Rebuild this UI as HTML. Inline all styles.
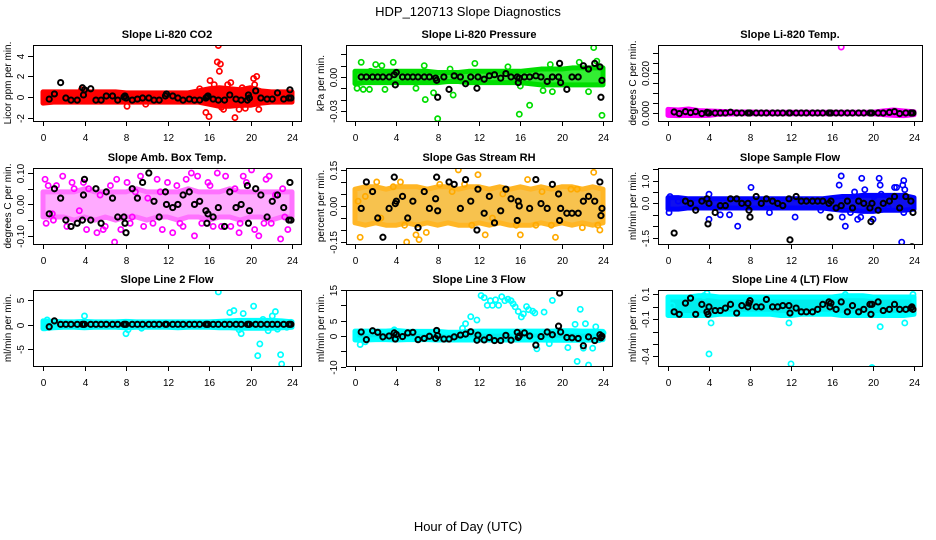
<!DOCTYPE html>
<html><head><meta charset="utf-8"><style>
body{margin:0;background:#fff;}
svg{display:block;font-family:"Liberation Sans",sans-serif;}
</style></head><body>
<svg id="chart" width="936" height="540" viewBox="0 0 936 540">
<text x="468" y="16" text-anchor="middle" font-size="13">HDP_120713  Slope Diagnostics</text>
<text x="468" y="531" text-anchor="middle" font-size="13">Hour of Day (UTC)</text>
</svg>
<script>
// shared x data
const xTicks = [0,4,8,12,16,20,24];
const bandHours = [0,1,2,3,4,5,6,7,8,9,10,11,12,13,14,15,16,17,18,19,20,21,22,23,24];
const blkH = [0.6,1.1,1.7,2.2,2.7,3.3,3.8,3.9,4.0,4.6,5.1,5.6,6.1,6.7,7.2,7.8,7.9,8.0,8.6,9.1,9.6,10.2,10.7,11.2,11.8,11.9,12.5,13.0,13.5,14.1,14.6,15.1,15.7,15.8,15.9,16.4,16.9,17.5,18.0,18.6,19.1,19.7,19.8,19.9,20.5,21.0,21.6,22.1,22.6,23.2,23.7,23.8,23.9];

// Panel 1: CO2
const p1Lo = [-0.6,-0.5,-0.5,-0.5,-0.5,-0.5,-0.5,-0.5,-0.5,-0.5,-0.5,-0.5,-0.5,-0.5,-0.5,-0.5,-0.7,-0.9,-0.9,-0.8,-0.8,-0.6,-0.5,-0.5,-0.5];
const p1Hi = [0.5,0.5,0.5,0.5,0.5,0.5,0.5,0.5,0.4,0.4,0.4,0.4,0.4,0.4,0.4,0.6,0.8,0.9,0.8,0.7,0.9,0.6,0.5,0.5,0.5];
const p1OutH = [16.9,16.8,17.1,17.0,16.1,16.5,15.7,16.0,18.5,17.4,17.8,18.1,20.3,20.6,20.4,19.2,18.9,19.5,20.8,15.1,17.2,18.3,3.7,8.1,9.9];
const p1OutV = [5.0,3.4,3.2,2.5,1.6,1.2,-1.5,-1.9,-2.0,-1.2,1.2,1.4,1.8,2.0,1.2,0.9,-1.2,-1.1,-1.2,0.8,-1.0,-0.7,0.7,-0.9,-0.7];
const p1Blk = [-0.2,0.3,1.4,-0.1,-0.3,-0.3,0.9,0.2,0.7,0.8,-0.3,-0.3,0.1,0.1,-0.3,0.0,0.1,-0.1,-0.3,-0.2,-0.1,-0.1,-0.3,-0.3,0.1,0.3,0.1,-0.1,-0.3,-0.2,-0.3,-0.3,-0.1,0.0,0.1,-0.2,-0.3,-0.3,0.2,-0.2,-0.3,-0.3,0.2,-0.1,0.6,-0.1,-0.2,-0.2,0.4,-0.2,-0.1,0.7,-0.1];

// Panel 2: Pressure
const p2Lo = [-0.006,-0.005,-0.005,-0.005,-0.005,-0.005,-0.005,-0.005,-0.005,-0.004,-0.004,-0.005,-0.005,-0.005,-0.005,-0.005,-0.005,-0.006,-0.007,-0.007,-0.007,-0.007,-0.007,-0.007,-0.007];
const p2Hi = [0.005,0.005,0.005,0.005,0.005,0.005,0.005,0.005,0.004,0.004,0.004,0.005,0.005,0.005,0.005,0.005,0.005,0.006,0.007,0.007,0.007,0.008,0.008,0.008,0.008];
const p2OutH = [0.6,1.5,2.0,2.6,3.7,2.9,0.2,0.8,1.4,6.7,6.8,8.0,7.6,9.5,11.6,14.8,15.9,16.9,16.0,18.9,19.1,21.7,22.6,23.1,23.4,23.9,18.2,5.9,9.2];
const p2OutV = [0.013,0.005,0.011,0.010,0.013,-0.011,-0.010,-0.011,-0.011,0.010,-0.020,-0.037,-0.014,-0.016,0.012,0.009,-0.033,-0.025,-0.008,0.011,-0.013,0.013,-0.013,0.026,0.014,-0.034,-0.012,-0.010,0.007];
const p2Blk = [0,0,0,0,0,0,0.002,-0.007,0.004,0,0,0,0,0,0,-0.001,-0.003,-0.018,0,-0.011,0.001,0,-0.006,0,-0.01,0,-0.002,0.001,0.002,-0.001,0.003,0,0,-0.005,-0.001,0,0,0.001,0,-0.004,0,0,0.012,-0.005,-0.011,0,0,0.010,0.007,0.012,0.009,-0.018,-0.003];

// Panel 3: Temp
const p3Lo = [-0.0012,-0.0013,-0.0012,-0.0013,-0.0012,-0.0006,-0.0005,-0.0004,-0.0004,-0.0004,-0.0004,-0.0004,-0.0004,-0.0004,-0.0004,-0.0004,-0.0004,-0.0004,-0.0004,-0.0004,-0.0004,-0.0008,-0.0012,-0.0013,-0.0008];
const p3Hi = [0.0018,0.0015,0.0020,0.0012,0.0010,0.0008,0.0006,0.0005,0.0005,0.0004,0.0004,0.0004,0.0004,0.0004,0.0004,0.0004,0.0004,0.0004,0.0004,0.0004,0.0004,0.0010,0.0015,0.0010,0.0006];
const p3OutH = [16.9];
const p3OutV = [0.033];
const p3Blk = [0.0005,-0.0003,0.0007,0.0002,0.0007,-0.0003,0.0003,0,0,0,0,0,0.0004,0,0,0,0,0,0,0,0,0,0,0,0,0,0,0,0,0,0,0,0,0,0,0,0,0,0,0,0,0,0,0,0,0,0.0003,0.0007,-0.0003,0,0,0,0];

// Panel 4: Amb box temp
const p4Lo = [-0.04,-0.04,-0.04,-0.05,-0.04,-0.05,-0.04,-0.05,-0.04,-0.04,-0.05,-0.04,-0.04,-0.05,-0.04,-0.04,-0.05,-0.04,-0.04,-0.05,-0.04,-0.04,-0.05,-0.04,-0.04];
const p4Hi = [0.04,0.04,0.04,0.04,0.05,0.04,0.04,0.04,0.04,0.05,0.04,0.04,0.04,0.04,0.05,0.04,0.04,0.04,0.05,0.04,0.04,0.04,0.04,0.04,0.04];
const p4OutH = [0.2,0.3,0.5,0.9,1.3,1.9,2.3,2.8,3.5,3.9,4.2,4.4,5.2,5.5,6.0,6.5,6.9,7.1,7.5,8.1,8.4,8.9,9.4,9.7,10.1,10.6,11.0,11.5,12.0,12.5,12.9,13.2,13.8,14.3,14.6,14.9,15.3,15.9,16.4,16.8,17.2,17.6,18.1,18.5,18.9,19.3,19.6,20.1,20.4,20.8,21.3,21.8,22.0,22.4,22.9,23.1,23.6,23.9,1.0,3.0,5.8,8.6,11.3,13.5,16.1,19.0,21.5,23.3];
const p4OutV = [0.08,-0.06,0.06,-0.03,0.06,0.09,-0.07,0.07,-0.02,0.07,-0.08,0.05,-0.09,0.03,-0.07,0.06,-0.12,0.08,-0.08,0.07,-0.06,0.04,0.09,-0.07,0.02,-0.06,0.08,-0.08,0.07,-0.09,0.06,-0.06,0.08,0.10,-0.10,0.09,-0.06,0.07,-0.07,0.10,-0.07,0.09,-0.07,0.05,-0.09,0.09,0.07,0.11,-0.08,-0.10,-0.06,0.09,-0.06,0.03,-0.11,0.05,-0.08,-0.05,-0.05,0.05,-0.08,-0.04,0.04,-0.07,0.06,-0.06,0.08,-0.04];
const p4Blk = [-0.03,0.05,0.02,-0.05,-0.07,-0.06,-0.05,0.03,0.08,-0.05,0.05,-0.06,0.04,0.02,-0.04,-0.04,-0.06,-0.09,0.05,0.02,0.07,0.10,0.01,-0.04,0.04,0.00,-0.01,0.00,0.03,0.04,0.00,0.01,-0.02,-0.06,-0.03,-0.04,-0.01,-0.07,0.04,-0.01,0.00,0.06,-0.06,-0.02,0.05,0.03,-0.04,0.01,0.03,-0.01,-0.05,0.07,-0.05];

// Panel 5: Gas stream RH
const p5Lo = [-0.07,-0.08,-0.07,-0.08,-0.08,-0.07,-0.08,-0.07,-0.08,-0.07,-0.08,-0.08,-0.07,-0.08,-0.07,-0.08,-0.08,-0.08,-0.07,-0.08,-0.07,-0.08,-0.07,-0.08,-0.07];
const p5Hi = [0.07,0.08,0.08,0.07,0.08,0.08,0.08,0.07,0.08,0.08,0.07,0.08,0.08,0.07,0.08,0.07,0.08,0.07,0.08,0.07,0.08,0.08,0.07,0.08,0.07];
const p5OutH = [0.3,0.5,1.0,2.1,2.5,3.7,4.4,4.8,5.0,5.9,6.2,6.9,8.2,9.4,10.0,10.6,11.3,11.9,12.6,13.3,14.3,15.6,16.0,16.7,17.5,18.1,19.0,19.4,20.9,21.5,22.0,23.1,23.5,23.7];
const p5OutV = [0.02,-0.13,0.04,0.10,-0.05,0.08,0.10,-0.08,-0.15,-0.12,-0.14,-0.11,0.09,0.06,0.15,0.09,-0.08,0.13,-0.12,-0.05,0.05,-0.08,-0.12,0.11,-0.08,0.06,-0.08,-0.13,0.07,0.07,-0.09,0.14,-0.08,-0.10];
const p5Blk = [-0.01,0.10,0.06,-0.05,-0.13,-0.01,0.12,0.01,0.02,0.04,-0.05,0.02,-0.09,0.06,-0.01,0.03,0.12,-0.02,0.18,0.10,0.09,-0.01,0.11,0.02,-0.10,0.07,-0.03,0.04,-0.07,-0.02,0.07,0.03,-0.06,0.02,0.00,0.18,-0.01,0.11,0.01,-0.01,0.09,0.05,-0.06,-0.01,-0.03,-0.03,-0.03,0.02,0.04,0.02,0.10,-0.04,-0.01];

// Panel 6: Sample flow
const p6Lo = [-0.25,-0.25,-0.2,-0.2,-0.2,-0.2,-0.2,-0.2,-0.2,-0.2,-0.2,-0.2,-0.2,-0.2,-0.2,-0.2,-0.25,-0.3,-0.3,-0.35,-0.35,-0.3,-0.3,-0.3,-0.25];
const p6Hi = [0.25,0.25,0.2,0.2,0.2,0.2,0.2,0.2,0.2,0.2,0.2,0.2,0.2,0.2,0.2,0.2,0.25,0.3,0.3,0.35,0.35,0.35,0.35,0.35,0.25];
const p6OutH = [0.1,0.2,1.0,4.0,4.0,5.1,6.0,6.8,8.1,9.9,12.4,14.9,16.7,16.9,17.0,17.3,17.8,18.2,18.5,18.8,18.9,19.2,19.5,20.0,20.1,20.6,20.7,20.8,21.5,22.1,22.3,22.8,22.9,23.0,23.1,23.0,22.7];
const p6OutV = [-0.4,0.3,0.1,-0.7,0.4,-0.5,-0.5,-1.0,0.7,-0.4,-0.6,-0.3,0.8,1.2,-0.6,-1.0,-0.4,0.5,-0.7,-0.6,1.1,0.6,-0.3,-0.7,0.3,1.1,0.8,0.4,-0.2,0.7,0.7,-1.7,0.8,1.0,0.6,-0.4,0.3];
const p6Blk = [-1.3,1.9,0.1,0.0,-0.3,0.1,0.2,-0.9,0.0,-0.4,-0.1,-0.1,0.2,0.2,0.0,0.0,-0.3,-0.6,0.3,0.0,0.2,0.1,0.0,-0.1,0.2,-1.6,0.3,0.1,0.1,0.1,0.1,0.1,0.0,-0.6,0.1,-0.2,-0.1,0.1,-0.2,0.1,0.0,-0.2,-0.8,0.0,-0.3,0.0,0.1,0.3,-0.2,0.3,0.1,-1.9,-0.4];

// Panel 7: Line 2 flow
const p7Lo = [-0.8,-0.6,-0.5,-0.5,-0.6,-0.5,-0.5,-0.5,-0.6,-0.5,-0.5,-0.5,-0.5,-0.6,-0.5,-0.5,-0.5,-0.6,-0.6,-0.7,-0.7,-0.7,-0.7,-0.6,-0.5];
const p7Hi = [0.8,0.7,0.6,0.6,0.7,0.6,0.6,0.6,0.7,0.6,0.6,0.6,0.6,0.6,0.6,0.6,0.6,0.7,0.8,0.9,0.9,0.9,0.9,0.8,0.6];
const p7OutH = [0.2,0.4,4.0,8.0,8.2,9.5,16.9,18.0,18.4,18.9,19.1,19.3,20.3,20.7,20.9,21.2,21.7,22.1,22.4,22.6,22.9,23.0,23.5,23.9];
const p7OutV = [-0.6,1.0,1.8,-1.8,-1.0,-0.7,6.7,2.5,2.9,-1.0,-1.8,2.3,3.8,-6.3,-3.9,1.1,-1.2,1.8,2.7,-0.9,-6.1,-8.0,-0.5,0.5];
const p7Blk = [-0.4,0.8,0.1,0.1,0.1,0.1,0.1,0.1,0.1,0.1,0.1,0.1,0.1,0.1,0.1,0.1,0.1,0.1,0.1,0.1,0.1,0.1,0.1,0.1,0.1,0.1,0.1,0.1,0.1,0.1,0.1,0.1,0.1,0.1,0.1,0.1,0.1,0.1,0.1,0.1,0.1,0.1,0.1,0.1,0.1,0.1,0.1,0.1,0.1,0.1,0.1,0.1,0.1];

// Panel 8: Line 3 flow
const p8Lo = [-1.3,-1.3,-1.2,-1.2,-1.3,-1.2,-1.2,-1.2,-1.3,-1.3,-1.3,-1.3,-1.3,-1.3,-1.3,-1.3,-1.3,-1.3,-1.3,-1.4,-1.4,-1.4,-1.4,-1.3,-1.2];
const p8Hi = [1.6,1.6,1.6,1.6,1.8,1.5,1.5,1.5,1.5,1.2,1.2,1.5,1.6,1.6,1.6,1.6,1.6,1.6,1.6,1.6,1.7,1.7,1.6,1.6,1.5];
const p8OutH = [0.5,1.0,3.8,10.4,10.7,11.2,11.8,12.2,12.5,12.8,13.1,13.3,13.6,13.9,14.2,14.5,14.8,15.1,15.3,15.5,15.8,16.1,16.3,16.6,16.8,17.2,17.4,17.6,18.3,18.8,19.1,20.6,21.3,21.5,21.8,22.1,22.3,22.6,23.0,23.3,23.6,24.0];
const p8OutV = [-2.8,-1.9,2.0,2.5,4.0,6.3,5.2,13.2,12.5,10,11.5,10,11.8,10,12.8,11.5,12.0,11.5,10.5,9.5,8,6.2,7.2,9.6,8.6,8.1,7.5,-4.2,7.8,-2.5,11.6,-3.8,3.8,-8.3,8.7,-4.0,4.0,-9.5,-4.0,3.0,-1.2,1.0];
const p8Blk = [1.3,-1.2,1.7,1.2,-0.3,0,1.0,-1.0,0.5,-0.2,1.0,1.2,-1.2,-0.8,-0.1,-0.8,1.8,0.1,-1.0,-1.0,-0.3,0.3,0.6,1.4,-1.4,0.3,-1.3,-0.5,-1.5,-1.5,0.2,-1.4,1.2,-0.5,0.0,1.0,0,-3.0,-0.2,1.3,0.4,3.2,14,1.3,-0.5,-0.6,-0.8,-3.2,-0.3,-1.5,0.4,-0.6,-0.1];

// Panel 9: Line 4 (LT) flow
const p9Lo = [-0.07,-0.07,-0.07,-0.07,-0.07,-0.06,-0.06,-0.06,-0.06,-0.06,-0.06,-0.07,-0.07,-0.06,-0.06,-0.06,-0.06,-0.07,-0.07,-0.07,-0.07,-0.07,-0.07,-0.07,-0.06];
const p9Hi = [0.08,0.08,0.08,0.09,0.09,0.08,0.08,0.08,0.08,0.08,0.08,0.08,0.08,0.08,0.08,0.08,0.08,0.09,0.09,0.09,0.08,0.08,0.08,0.08,0.08];
const p9OutH = [0.4,3.8,3.5,4.0,4.2,11.8,12.0,17.3,19.9,20.7,23.1,23.9];
const p9OutV = [0.01,0.11,0.09,-0.38,-0.13,-0.13,-0.46,0.10,-0.49,-0.16,-0.13,0.10];
const p9Blk = [-0.04,-0.06,0.03,0.07,-0.06,0.02,-0.04,-0.06,0.0,-0.03,-0.03,-0.01,0.02,-0.05,0.01,0.0,0.03,0.05,0.0,0.0,0.06,0.0,0.0,0.01,0.01,-0.05,-0.01,-0.04,-0.04,-0.04,-0.02,0.02,0.04,0.0,0.03,-0.02,0.04,-0.04,0.01,-0.04,-0.02,0.02,-0.06,0.02,0.04,-0.03,-0.02,0.02,-0.02,-0.02,-0.01,0.0,-0.02];

// y tick values and labels
const p1Ticks = [-2,0,2,4], p1Labels = ["-2","0","2","4"];
const p2Ticks = [-0.03,-0.02,-0.01,0,0.01,0.02], p2Labels = ["-0.03","","","0.00","",""];
const p3Ticks = [0,0.005,0.01,0.015,0.02,0.025,0.03], p3Labels = ["0.000","","","","0.020","",""];
const p4Ticks = [-0.1,-0.05,0,0.05,0.1], p4Labels = ["-0.10","","0.00","","0.10"];
const p5Ticks = [-0.15,-0.1,-0.05,0,0.05,0.1,0.15], p5Labels = ["-0.15","","","0.00","","","0.15"];
const p6Ticks = [-1.5,-1,-0.5,0,0.5,1,1.5], p6Labels = ["-1.5","","","0.0","","1.0",""];
const p7Ticks = [-5,0,5], p7Labels = ["-5","0","5"];
const p8Ticks = [-10,-5,0,5,10,15], p8Labels = ["-10","","0","5","","15"];
const p9Ticks = [-0.4,-0.3,-0.2,-0.1,0,0.1], p9Labels = ["-0.4","","","-0.1","","0.1"];

const svg = document.getElementById('chart');
const NS = 'http://www.w3.org/2000/svg';
function mk(tag, attrs, parent){ const e=document.createElementNS(NS,tag); for(const k in attrs) e.setAttribute(k,attrs[k]); (parent||svg).appendChild(e); return e; }

const colX = [{bx:33,bw:268,x0:43,x24:292},{bx:346,bw:266,x0:355,x24:603},{bx:658,bw:264,x0:668,x24:914}];
const rowY = [45,168,290];
const BH = 76;

const panels = [
 {title:"Slope Li-820 CO2", ylab:"Licor ppm per min.", col:"#ff0000", fill:"#ff0000", op:1, ymin:-2.33, ymax:5.05, lo:p1Lo, hi:p1Hi, oh:p1OutH, ov:p1OutV, blk:p1Blk, ticks:p1Ticks, labels:p1Labels},
 {title:"Slope Li-820 Pressure", ylab:"kPa per min.", col:"#00dd00", fill:"#33ee33", op:1, ymin:-0.039, ymax:0.0283, lo:p2Lo, hi:p2Hi, oh:p2OutH, ov:p2OutV, blk:p2Blk, ticks:p2Ticks, labels:p2Labels},
 {title:"Slope Li-820 Temp.", ylab:"degrees C per min.", col:"#ff00ff", fill:"#ff22ff", op:1, ymin:-0.004, ymax:0.034, lo:p3Lo, hi:p3Hi, oh:p3OutH, ov:p3OutV, blk:p3Blk, ticks:p3Ticks, labels:p3Labels},
 {title:"Slope Amb. Box Temp.", ylab:"degrees C per min.", col:"#ff00ff", fill:"#ff66ff", op:0.55, ymin:-0.126, ymax:0.116, lo:p4Lo, hi:p4Hi, oh:p4OutH, ov:p4OutV, blk:p4Blk, ticks:p4Ticks, labels:p4Labels},
 {title:"Slope Gas Stream RH", ylab:"percent per min.", col:"#ffaa00", fill:"#f6b830", op:0.85, ymin:-0.158, ymax:0.158, lo:p5Lo, hi:p5Hi, oh:p5OutH, ov:p5OutV, blk:p5Blk, ticks:p5Ticks, labels:p5Labels},
 {title:"Slope Sample Flow", ylab:"ml/min per min.", col:"#0000ff", fill:"#1010ee", op:1, ymin:-1.78, ymax:1.55, lo:p6Lo, hi:p6Hi, oh:p6OutH, ov:p6OutV, blk:p6Blk, ticks:p6Ticks, labels:p6Labels},
 {title:"Slope Line 2 Flow", ylab:"ml/min per min.", col:"#00ffff", fill:"#00eeee", op:1, ymin:-8.4, ymax:7.1, lo:p7Lo, hi:p7Hi, oh:p7OutH, ov:p7OutV, blk:p7Blk, ticks:p7Ticks, labels:p7Labels},
 {title:"Slope Line 3 Flow", ylab:"ml/min per min.", col:"#00ffff", fill:"#00eeee", op:1, ymin:-9.8, ymax:15, lo:p8Lo, hi:p8Hi, oh:p8OutH, ov:p8OutV, blk:p8Blk, ticks:p8Ticks, labels:p8Labels},
 {title:"Slope Line 4 (LT) Flow", ylab:"ml/min per min.", col:"#00ffff", fill:"#00eeee", op:1, ymin:-0.477, ymax:0.136, lo:p9Lo, hi:p9Hi, oh:p9OutH, ov:p9OutV, blk:p9Blk, ticks:p9Ticks, labels:p9Labels}
];

panels.forEach((p, i) => {
  const c = colX[i % 3], top = rowY[Math.floor(i / 3)], bot = top + BH;
  const xs = h => c.x0 + (h / 24) * (c.x24 - c.x0);
  const ys = v => bot - (v - p.ymin) / (p.ymax - p.ymin) * BH;
  const g = mk('g', {});
  
  
  const t = mk('text', {x: c.bx + c.bw / 2, y: top - 7, 'text-anchor': 'middle', 'font-size': 11, 'font-weight': 'bold'}, g);
  t.textContent = p.title;
  
  
  const clip = mk('clipPath', {id: 'clip' + i}, g);
  mk('rect', {x: c.bx, y: top, width: c.bw, height: BH}, clip);
  const plot = mk('g', {'clip-path': 'url(#clip' + i + ')'}, g);
  let pts = [];
  bandHours.forEach((h, k) => pts.push(xs(h) + ',' + ys(p.hi[k])));
  for (let k = bandHours.length - 1; k >= 0; k--) pts.push(xs(bandHours[k]) + ',' + ys(p.lo[k]));
  const band = mk('polygon', {points: pts.join(' '), fill: p.fill, stroke: p.col, 'stroke-width': 5, 'stroke-linejoin': 'round', opacity: p.op}, plot);
  
  
  const n = Math.min(p.oh.length, p.ov.length);
  for (let k = 0; k < n; k++) {
    const ci = mk('circle', {cx: xs(p.oh[k]), cy: ys(p.ov[k]), r: 2.6, fill: 'none', stroke: p.col, 'stroke-width': 1.7}, plot);
    
    
  }
  const m = Math.min(blkH.length, p.blk.length);
  for (let k = 0; k < m; k++) {
    const ci = mk('circle', {cx: xs(blkH[k]), cy: ys(p.blk[k]), r: 2.6, fill: 'none', stroke: '#000', 'stroke-width': 2}, plot);
    
    
  }
  const box = mk('rect', {x: c.bx + 0.5, y: top + 0.5, width: c.bw, height: BH, fill: 'none', stroke: '#000', 'stroke-width': 1}, g);
  
  
  xTicks.forEach(v => {
    const x = Math.round(xs(v)) + 0.5;
    mk('line', {x1: x, x2: x, y1: bot, y2: bot + 5, stroke: '#000'}, g);
    const tl = mk('text', {x: x, y: bot + 20, 'text-anchor': 'middle', 'font-size': 10}, g);
    tl.textContent = v;
    
    
  });
  p.ticks.forEach((v, k) => {
    const y = Math.round(ys(v)) + 0.5;
    mk('line', {x1: c.bx - 5, x2: c.bx, y1: y, y2: y, stroke: '#000'}, g);
    if (p.labels[k]) {
      const tl = mk('text', {x: 0, y: 0, 'text-anchor': 'middle', 'font-size': 10, transform: 'translate(' + (c.bx - 9) + ',' + y + ') rotate(-90)'}, g);
      tl.textContent = p.labels[k];
      
      
    }
  });
  const yl = mk('text', {x: 0, y: 0, 'text-anchor': 'middle', 'font-size': 10, transform: 'translate(' + (c.bx - 22) + ',' + (top + BH / 2) + ') rotate(-90)'}, g);
  yl.textContent = p.ylab;
  
  
});
</script>
</body></html>
